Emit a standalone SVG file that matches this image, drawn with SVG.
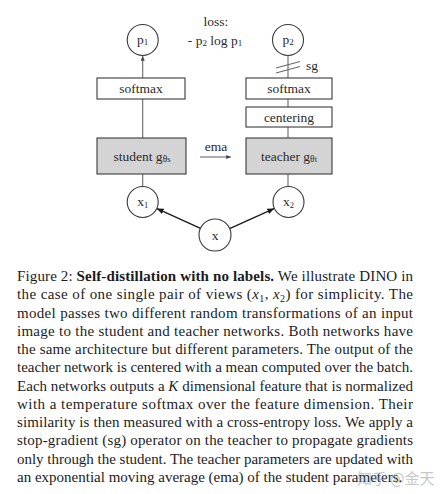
<svg xmlns="http://www.w3.org/2000/svg" width="443" height="494" viewBox="0 0 443 494">
<defs>
<style>
.bg{fill:#ffffff}
.box{fill:#ffffff;stroke:#3a3a3a;stroke-width:1.1}
.gbox{fill:#d4d4d4;stroke:#3a3a3a;stroke-width:1.1}
.circ{fill:#ffffff;stroke:#3a3a3a;stroke-width:1.1}
.lbl{font-family:"Liberation Serif","Times New Roman",serif;font-size:13.5px;fill:#2a2a2a;text-anchor:middle}
.wire{stroke:#6a6a6a;stroke-width:1.1;fill:none}
.arr{stroke:#1a1a1a;stroke-width:1.3;fill:none}
.cap{font-family:"Liberation Serif","Times New Roman",serif;font-size:15px;fill:#1c1c1c}
.it{font-style:italic}
.b{font-weight:bold}
</style>
<marker id="ah" viewBox="0 0 10 8" refX="9.5" refY="4" markerWidth="7" markerHeight="5.6" markerUnits="userSpaceOnUse" orient="auto">
<path d="M0,0 L10,4 L0,8 z" fill="#1a1a1a"/>
</marker>
<marker id="ahs" viewBox="0 0 10 8" refX="9.5" refY="4" markerWidth="5" markerHeight="4" markerUnits="userSpaceOnUse" orient="auto">
<path d="M0,0 L10,4 L0,8 z" fill="#444"/>
</marker>
</defs>
<rect class="bg" x="0" y="0" width="443" height="494"/>

<g id="connectors">
<line class="wire" x1="142.7" y1="186.5" x2="142.7" y2="174"/>
<line class="wire" x1="142.7" y1="138" x2="142.7" y2="99"/>
<line class="wire" x1="142.7" y1="78" x2="142.7" y2="56" marker-end="url(#ahs)"/>
<line class="wire" x1="288" y1="186.5" x2="288" y2="174"/>
<line class="wire" x1="288" y1="138" x2="288" y2="127"/>
<line class="wire" x1="288" y1="107" x2="288" y2="99"/>
<line class="wire" x1="288" y1="78" x2="288" y2="55.5"/>
<line class="arr" x1="200.5" y1="228.4" x2="157" y2="208.6" marker-end="url(#ah)"/>
<line class="arr" x1="229.6" y1="228.6" x2="274" y2="208.6" marker-end="url(#ah)"/>
<line class="wire" x1="200" y1="157" x2="231" y2="157" stroke-width="0.8" marker-end="url(#ahs)"/>
<g id="sg-mark">
<line class="wire" x1="276" y1="68" x2="300" y2="61.5"/>
<line class="wire" x1="276" y1="73" x2="300" y2="66.5"/>
</g>
</g>

<g id="p1"><circle class="circ" cx="142.7" cy="40" r="15.5"/><text class="lbl" x="142.7" y="44" font-size="14">p<tspan font-size="9" dy="1">1</tspan></text></g>
<g id="p2"><circle class="circ" cx="288" cy="40" r="15.5"/><text class="lbl" x="288" y="44" font-size="14">p<tspan font-size="9" dy="1">2</tspan></text></g>
<g id="loss"><text class="lbl" x="216" y="26">loss:</text><text class="lbl" x="215" y="45">- p<tspan font-size="9" dy="1">2</tspan><tspan dy="-1"> log p</tspan><tspan font-size="9" dy="1">1</tspan></text></g>
<g id="sg"><text class="lbl" x="306" y="70" style="text-anchor:start" font-size="12.5">sg</text></g>
<g id="softmax-s"><rect class="box" x="97" y="78" width="88" height="21"/><text class="lbl" x="141" y="93">softmax</text></g>
<g id="softmax-t"><rect class="box" x="246" y="78" width="86" height="21"/><text class="lbl" x="289" y="93">softmax</text></g>
<g id="centering"><rect class="box" x="246" y="107" width="86" height="20"/><text class="lbl" x="289" y="121.5">centering</text></g>
<g id="student"><rect class="gbox" x="97" y="138" width="89" height="36"/><text class="lbl" x="142" y="161">student g<tspan font-size="9.5" dy="1">θ</tspan><tspan font-size="8.5">s</tspan></text></g>
<g id="teacher"><rect class="gbox" x="246" y="138" width="86" height="36"/><text class="lbl" x="289" y="161">teacher g<tspan font-size="9.5" dy="1">θ</tspan><tspan font-size="8.5">t</tspan></text></g>
<g id="ema"><text class="lbl" x="216" y="151" font-size="12.5">ema</text></g>
<g id="x1"><circle class="circ" cx="142.7" cy="202" r="15.5"/><text class="lbl" x="142.7" y="206" font-size="14">x<tspan font-size="8.5" dy="1.5">1</tspan></text></g>
<g id="x2"><circle class="circ" cx="288.5" cy="202" r="15.5"/><text class="lbl" x="288.5" y="206" font-size="14">x<tspan font-size="8.5" dy="1.5">2</tspan></text></g>
<g id="x"><circle class="circ" cx="215" cy="235" r="16"/><text class="lbl" x="215" y="239.5" font-size="14">x</text></g>

<g id="caption">
<text class="cap" x="17" y="281" textLength="396" lengthAdjust="spacing">Figure 2: <tspan class="b">Self-distillation with no labels.</tspan> We illustrate DINO in</text>
<text class="cap" x="17" y="299.2" textLength="396" lengthAdjust="spacing">the case of one single pair of views (<tspan class="it">x</tspan><tspan font-size="10" dy="2.5">1</tspan><tspan dy="-2.5">, </tspan><tspan class="it">x</tspan><tspan font-size="10" dy="2.5">2</tspan><tspan dy="-2.5">) for simplicity. The</tspan></text>
<text class="cap" x="17" y="317.5" textLength="396" lengthAdjust="spacing">model passes two different random transformations of an input</text>
<text class="cap" x="17" y="335.7" textLength="396" lengthAdjust="spacing">image to the student and teacher networks. Both networks have</text>
<text class="cap" x="17" y="354" textLength="396" lengthAdjust="spacing">the same architecture but different parameters. The output of the</text>
<text class="cap" x="17" y="372.2" textLength="396" lengthAdjust="spacing">teacher network is centered with a mean computed over the batch.</text>
<text class="cap" x="17" y="390.5" textLength="396" lengthAdjust="spacing">Each networks outputs a <tspan class="it">K</tspan> dimensional feature that is normalized</text>
<text class="cap" x="17" y="408.7" textLength="396" lengthAdjust="spacing">with a temperature softmax over the feature dimension. Their</text>
<text class="cap" x="17" y="427" textLength="396" lengthAdjust="spacing">similarity is then measured with a cross-entropy loss. We apply a</text>
<text class="cap" x="17" y="445.2" textLength="396" lengthAdjust="spacing">stop-gradient (sg) operator on the teacher to propagate gradients</text>
<text class="cap" x="17" y="463.5" textLength="396" lengthAdjust="spacing">only through the student. The teacher parameters are updated with</text>
<text class="cap" x="17" y="481.7">an exponential moving average (ema) of the student parameters.</text>
</g>
<g id="watermark"><text x="357" y="484" font-family="'Noto Sans CJK SC',sans-serif" font-size="15" fill="#9a9a9a" opacity="0.55">知乎 @金天</text></g>
</svg>
